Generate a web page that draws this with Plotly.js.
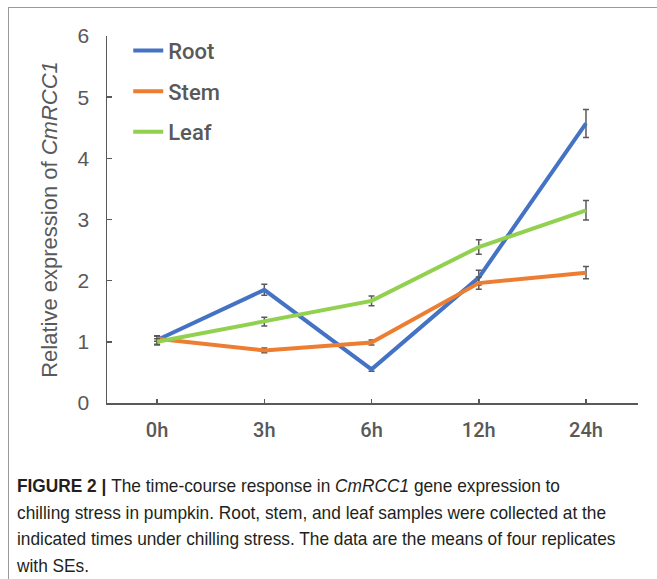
<!DOCTYPE html>
<html>
<head>
<meta charset="utf-8">
<script src="https://cdn.plot.ly/plotly-3.0.1.min.js"></script>
<style>
  html, body { margin: 0; padding: 0; background: #fff; }
  #wrap { position: relative; width: 657px; height: 579px; overflow: hidden; }
  #frame { position: absolute; left: 8px; top: 7px; width: 700px; height: 600px;
           border-left: 1px solid #9a9a9a; border-top: 1px solid #9a9a9a; }
  #chart { position: absolute; left: 0; top: 0; width: 657px; height: 579px; }
  #caption { position: absolute; left: 17px; top: 473px; white-space: nowrap;
             font-family: "Liberation Sans", Arial, sans-serif;
             transform: scaleX(0.91); transform-origin: 0 0;
             font-size: 19px; line-height: 26.5px; color: #231f20; }
</style>
</head>
<body>
<div id="wrap">
  <div id="frame"></div>
  <div id="chart"></div>
  <div id="caption"><b>FIGURE 2 |</b>&nbsp;The time-course response in <i>CmRCC1</i> gene expression to<br>chilling stress in pumpkin. Root, stem, and leaf samples were collected at the<br>indicated times under chilling stress. The data are the means of four replicates<br>with SEs.</div>
</div>
<script>
const categories = ["0h", "3h", "6h", "12h", "24h"];
const rootValues = [1.03, 1.85, 0.55, 2.05, 4.57];
const rootErrors = [0.07, 0.09, 0.03, 0.12, 0.23];
const stemValues = [1.05, 0.86, 0.99, 1.96, 2.13];
const stemErrors = [0.04, 0.04, 0.04, 0.10, 0.10];
const leafValues = [1.00, 1.33, 1.67, 2.55, 3.15];
const leafErrors = [0.05, 0.07, 0.08, 0.12, 0.16];
const seriesNames = ["Root", "Stem", "Leaf"];
const seriesColors = ["#4472C4", "#ED7D31", "#92D050"];

const gray = "#595959";
const values = [rootValues, stemValues, leafValues];
const errors = [rootErrors, stemErrors, leafErrors];

const traces = values.map((v, i) => ({
  type: "scatter",
  mode: "lines",
  x: categories,
  y: v,
  name: seriesNames[i],
  legendgroup: seriesNames[i],
  line: { color: seriesColors[i], width: 4 },
  error_y: { type: "data", array: errors[i], visible: true, color: gray, thickness: 1.5, width: 3 }
}));

const layout = {
  width: 657, height: 579,
  margin: { l: 107, r: 19, t: 36, b: 176 },
  paper_bgcolor: "rgba(0,0,0,0)",
  plot_bgcolor: "rgba(0,0,0,0)",
  font: { family: "Roboto, 'Liberation Sans', Arial, sans-serif", color: gray },
  showlegend: true,
  legend: {
    x: 0.04, y: 1.017, xanchor: "left", yanchor: "top",
    font: { size: 22, color: gray, weight: 500 },
    traceorder: "grouped", tracegroupgap: 9,
    bgcolor: "rgba(0,0,0,0)", itemwidth: 30
  },
  xaxis: {
    type: "category",
    range: [-0.467, 4.485],
    showline: true, linecolor: gray, linewidth: 1.5,
    ticks: "inside", ticklen: 4, tickcolor: gray, tickwidth: 1.5,
    showgrid: false, zeroline: false,
    tickfont: { size: 20, color: gray, weight: 500 },
    ticklabelstandoff: 8
  },
  yaxis: {
    range: [0, 6],
    dtick: 1,
    showline: true, linecolor: gray, linewidth: 1.5,
    ticks: "inside", ticklen: 5, tickcolor: gray, tickwidth: 1.5,
    showgrid: false, zeroline: false,
    tickfont: { size: 21, color: gray, family: "'Liberation Sans', Arial, sans-serif" },
    ticklabelstandoff: 12,
    title: { text: "Relative expression of <i>CmRCC1</i>", font: { size: 22, color: gray, family: "'Liberation Sans', Arial, sans-serif" }, standoff: 14 }
  }
};

Plotly.newPlot("chart", traces, layout, { displayModeBar: false, staticPlot: true });
</script>
</body>
</html>
